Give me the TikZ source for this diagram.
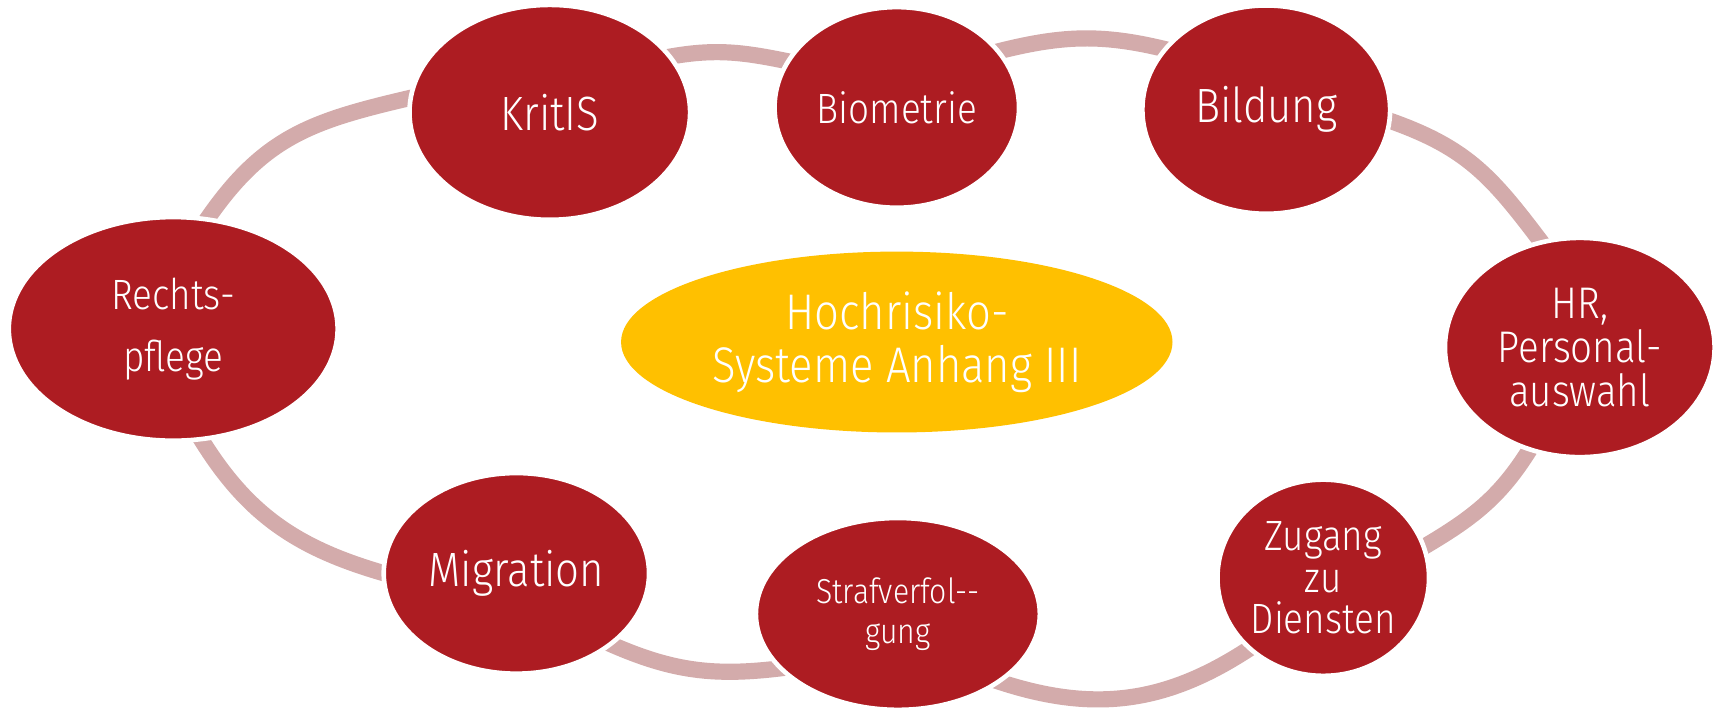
\documentclass[tikz,border=0pt]{standalone}
\usepackage{fontspec}
\setmainfont{Fira Sans Light}[FakeStretch=0.87]
\usepackage{tikz}
\usetikzlibrary{shapes.geometric,backgrounds}
\definecolor{myred}{HTML}{AD1C22}
\definecolor{myrose}{HTML}{D3ABAB}
\definecolor{myyellow}{HTML}{FFC000}

\begin{document}
\begin{tikzpicture}[auto]
\tikzset{
    mynode/.style={ellipse, fill=myred, draw=white, line width=1.2pt, inner sep=-5mm, outer sep=0pt, text=white, align=center},
    mycenter/.style={ellipse, fill=myyellow, inner sep=-5mm, outer sep=0pt, text=white, align=center, minimum width=5.03cm, minimum height=1.65cm},
    myarc/.style={myrose, line width=4.2pt, shorten <=-4pt, shorten >=-4pt}
}
\useasboundingbox (0,0) rectangle (15.68,-6.45);

\node[mycenter, font=\fontsize{13}{13.7}\selectfont] (center) at (8.18,-3.12) {Hochrisiko-\\Systeme Anhang III};

\node[mynode, minimum width=2.56cm, minimum height=1.96cm, font=\fontsize{12.5}{12.5}\selectfont] (kritis) at (5.015,-1.025) {KritIS};
\node[mynode, minimum width=2.23cm, minimum height=1.83cm, font=\fontsize{11}{11}\selectfont] (biometrie) at (8.18,-0.98) {Biometrie};
\node[mynode, minimum width=2.26cm, minimum height=1.90cm, font=\fontsize{12.5}{12.5}\selectfont] (bildung) at (11.55,-1.00) {Bildung};
\node[mynode, minimum width=2.46cm, minimum height=2.00cm, font=\fontsize{11.5}{11.4}\selectfont] (hr) at (14.41,-3.17) {HR,\\Personal-\\auswahl};
\node[mynode, minimum width=1.93cm, minimum height=1.79cm, font=\fontsize{11}{10.8}\selectfont] (zugang) at (12.07,-5.27) {Zugang\\zu\\Diensten};
\node[mynode, minimum width=2.59cm, minimum height=1.75cm, font=\fontsize{9}{10.5}\selectfont] (straf) at (8.19,-5.60) {Strafverfol-{}-\\gung};
\node[mynode, minimum width=2.42cm, minimum height=1.83cm, font=\fontsize{12.5}{12.5}\selectfont] (migration) at (4.71,-5.23) {Migration};
\node[mynode, minimum width=3.00cm, minimum height=2.04cm, font=\fontsize{11}{16}\selectfont] (rechts) at (1.58,-3.00) {Rechts-\\pflege};

% ring pieces go under the nodes
\begin{scope}[on background layer]
\draw[myarc] (rechts.73) to[out=57, in=193, looseness=1.1] (kritis.174);
\draw[myarc] (kritis.25) to[out=12, in=168] (biometrie.157);
\draw[myarc] (biometrie.29) to[out=15, in=165] (bildung.149);
\draw[myarc] (bildung.-5) to[out=-18, in=127, looseness=1.1] (hr.110);
\draw[myarc] (hr.244) to[out=240, in=30] (zugang.17);
\draw[myarc] (zugang.224) to[out=215, in=340] (straf.326);
\draw[myarc] (straf.205) to[out=188, in=335] (migration.323);
\draw[myarc] (migration.180) to[out=165, in=300] (rechts.284);
\end{scope}

\end{tikzpicture}
\end{document}
